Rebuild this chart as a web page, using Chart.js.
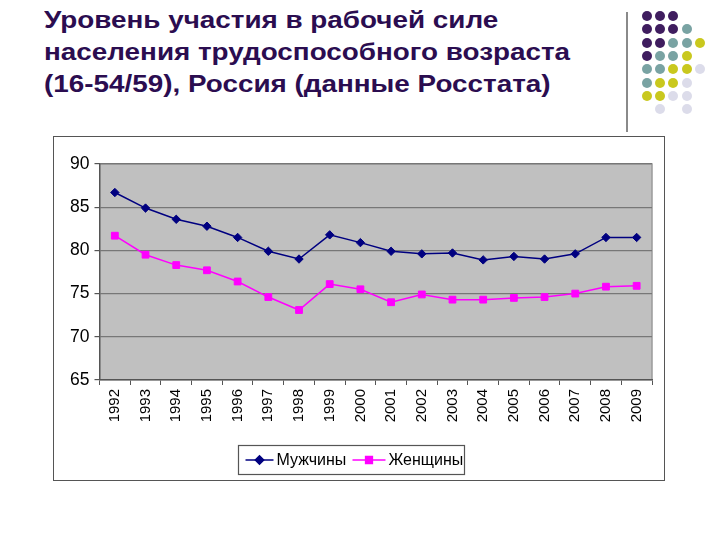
<!DOCTYPE html>
<html>
<head>
<meta charset="utf-8">
<script src="https://cdn.jsdelivr.net/npm/chart.js@4/dist/chart.umd.min.js"></script>
<style>
  body { margin: 0; background: #fff; width: 720px; height: 540px; position: relative; overflow: hidden; font-family: "Liberation Sans", Arial, sans-serif; }
  #title { position: absolute; left: 44px; top: 4px; margin: 0; font-size: 24px; line-height: 32px; font-weight: bold; color: #2b0d50;
           transform: scaleX(1.16); transform-origin: 0 0; white-space: nowrap; }
  #vline { position: absolute; left: 626px; top: 12px; width: 2px; height: 120px; background: #8a8a8a; }
  .dot { position: absolute; width: 10px; height: 10px; border-radius: 50%; }
  #box { position: absolute; left: 53px; top: 136px; width: 610px; height: 343px; border: 1.5px solid #555; }
</style>
</head>
<body>
<h1 id="title">Уровень участия в рабочей силе<br>населения трудоспособного возраста<br>(16-54/59), Россия (данные Росстата)</h1>
<div id="vline"></div>
<div id="dots"></div>
<div id="box"><canvas id="c"></canvas></div>
<script>
// data
const years = ["1992","1993","1994","1995","1996","1997","1998","1999","2000",
               "2001","2002","2003","2004","2005","2006","2007","2008","2009"];
const men   = [86.7, 84.9, 83.6, 82.8, 81.5, 79.9, 79.0, 81.8, 80.9,
               79.9, 79.6, 79.7, 78.9, 79.3, 79.0, 79.6, 81.5, 81.5];
const women = [81.7, 79.5, 78.3, 77.7, 76.4, 74.6, 73.1, 76.1, 75.5,
               74.0, 74.9, 74.3, 74.3, 74.5, 74.6, 75.0, 75.8, 75.9];
const seriesNames = ["Мужчины", "Женщины"];
const yTicks = { min: 65, max: 90, step: 5 };

// decorative dot grid (top right)
const dotRows = ["PPP", "PPPT", "PPTTY", "PTTY", "TTYYL", "TYYL", "YYLL", ".L.L"];
const dotColors = { P: "#3f1d5f", T: "#79a3a3", Y: "#c9c81e", L: "#dcdcea" };
const dotsEl = document.getElementById("dots");
dotRows.forEach((row, r) => {
  [...row].forEach((ch, c) => {
    if (ch === ".") return;
    const d = document.createElement("div");
    d.className = "dot";
    d.style.left = (642 + c * 13.2) + "px";
    d.style.top = (11 + r * 13.3) + "px";
    d.style.background = dotColors[ch];
    dotsEl.appendChild(d);
  });
});

const plotBg = {
  id: "plotBg",
  beforeDraw(chart) {
    const { ctx, chartArea: a } = chart;
    ctx.save();
    ctx.fillStyle = "#c0c0c0";
    ctx.fillRect(a.left, a.top, a.right - a.left, a.bottom - a.top);
    ctx.strokeStyle = "#9a9a9a";
    ctx.lineWidth = 1.5;
    ctx.beginPath();
    ctx.moveTo(a.left, a.top);
    ctx.lineTo(a.right, a.top);
    ctx.lineTo(a.right, a.bottom);
    ctx.stroke();
    ctx.restore();
  }
};

// legend drawn in a framed box like the original
const boxLegend = {
  id: "boxLegend",
  afterDraw(chart) {
    const ctx = chart.ctx;
    const x0 = 184.5, y0 = 308.5, w = 226, h = 29;
    ctx.save();
    ctx.strokeStyle = "#555";
    ctx.lineWidth = 1.2;
    ctx.strokeRect(x0, y0, w, h);
    ctx.font = "16px 'Liberation Sans', Arial, sans-serif";
    ctx.textBaseline = "middle";
    const cy = y0 + h / 2;
    const items = [
      { x: 7, len: 28, tx: 38, ds: chart.data.datasets[0] },
      { x: 114, len: 33, tx: 150, ds: chart.data.datasets[1] }
    ];
    items.forEach(it => {
      const ds = it.ds;
      ctx.strokeStyle = ds.borderColor;
      ctx.lineWidth = 1.5;
      ctx.beginPath();
      ctx.moveTo(x0 + it.x, cy);
      ctx.lineTo(x0 + it.x + it.len, cy);
      ctx.stroke();
      ctx.fillStyle = ds.backgroundColor;
      Chart.helpers.drawPoint(ctx, {
        pointStyle: ds.pointStyle, radius: ds.pointRadius, borderWidth: 1
      }, x0 + it.x + it.len / 2, cy);
      ctx.fillStyle = "#000";
      ctx.fillText(ds.label, x0 + it.tx, cy + 1);
    });
    ctx.restore();
  }
};

Chart.defaults.font.family = "'Liberation Sans', Arial, sans-serif";
Chart.defaults.color = "#000";

new Chart(document.getElementById("c"), {
  type: "line",
  data: {
    labels: years,
    datasets: [
      {
        label: seriesNames[0],
        data: men,
        borderColor: "#000080",
        backgroundColor: "#000080",
        borderWidth: 1.5,
        pointStyle: "rectRot",
        pointRadius: 4.2,
        pointBorderWidth: 1,
        tension: 0
      },
      {
        label: seriesNames[1],
        data: women,
        borderColor: "#ff00ff",
        backgroundColor: "#ff00ff",
        borderWidth: 1.5,
        pointStyle: "rect",
        pointRadius: 4.8,
        pointBorderWidth: 1,
        tension: 0
      }
    ]
  },
  options: {
    responsive: true,
    maintainAspectRatio: false,
    animation: false,
    layout: { padding: { top: 27, right: 12, left: 0, bottom: 40 } },
    plugins: {
      legend: { display: false },
      tooltip: { enabled: false }
    },
    scales: {
      x: {
        offset: true,
        grid: { offset: true, drawOnChartArea: false, drawTicks: true, tickLength: 5, color: "#555", lineWidth: 1 },
        border: { color: "#555", width: 1.5 },
        ticks: { minRotation: 90, maxRotation: 90, padding: 4, font: { size: 15 } },
        afterFit: s => { s.height = 60; }
      },
      y: {
        min: yTicks.min,
        max: yTicks.max,
        ticks: { stepSize: yTicks.step, padding: 5, font: { size: 17.5 } },
        grid: { color: "#777", lineWidth: 1.2, tickLength: 5, tickColor: "#555" },
        border: { color: "#555", width: 1.5 },
        afterFit: s => { s.width = 45.5; }
      }
    }
  },
  plugins: [plotBg, boxLegend]
});
</script>
</body>
</html>
